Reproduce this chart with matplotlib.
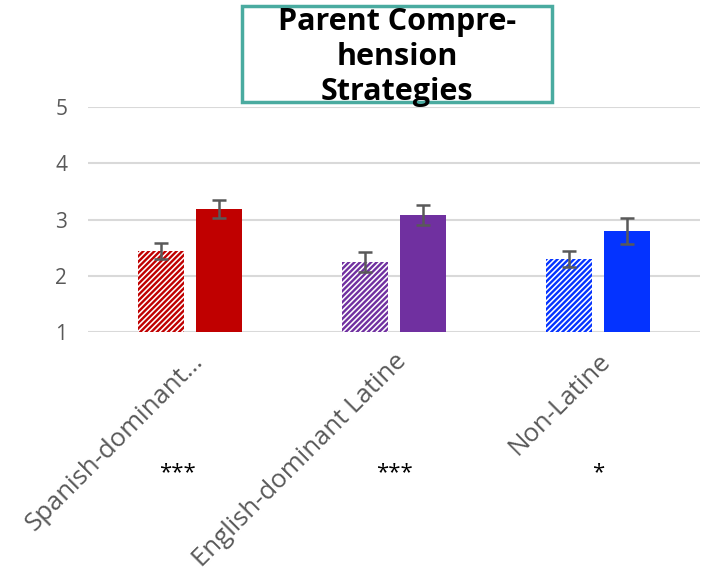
import matplotlib.pyplot as plt
from matplotlib.patches import Rectangle
import numpy as np

# group means and standard errors
groups = ['Spanish-dominant\u2026', 'English-dominant Latine', 'Non-Latine']
pre_means = [2.44, 2.24, 2.30]
pre_err = [0.15, 0.18, 0.14]
post_means = [3.19, 3.08, 2.80]
post_err = [0.16, 0.17, 0.23]
colors = ['#C00000', '#7030A0', '#0433FF']
stars = ['***', '***', '*']
yticks = [1, 2, 3, 4, 5]

plt.rcParams['font.family'] = ['Open Sans', 'DejaVu Sans']
plt.rcParams['hatch.linewidth'] = 1.7

W, H = 706, 578
fig = plt.figure(figsize=(W / 100, H / 100), dpi=100)
ax = fig.add_axes([88 / W, 1 - 332 / H, 612 / W, 225 / H])

x = np.arange(len(groups))
bw = 0.225
off = 0.142
gray = '#595959'

for i in x:
    ax.bar(x[i] - off, pre_means[i] - 1, bw, bottom=1, facecolor='white',
           edgecolor=colors[i], hatch='//////', linewidth=0, zorder=2)
    ax.bar(x[i] + off, post_means[i] - 1, bw, bottom=1, color=colors[i],
           linewidth=0, zorder=2)
ax.errorbar(x - off, pre_means, yerr=pre_err, fmt='none', ecolor=gray,
            elinewidth=1.8, capsize=5, capthick=1.8, zorder=3)
ax.errorbar(x + off, post_means, yerr=post_err, fmt='none', ecolor=gray,
            elinewidth=1.8, capsize=5, capthick=1.8, zorder=3)

ax.set_xlim(-0.5, 2.5)
ax.set_ylim(1, 5)
ax.set_yticks(yticks)
ax.yaxis.grid(True, color='#D9D9D9', linewidth=1.5, zorder=0)
ax.set_axisbelow(True)
for s in ax.spines.values():
    s.set_visible(False)
ax.tick_params(axis='both', length=0, colors=gray)
ax.tick_params(axis='y', pad=15, labelsize=15)

ax.set_xticks(x)
ax.set_xticklabels(groups, rotation=45, ha='right', va='top',
                   rotation_mode='anchor', fontsize=18.5)
ax.tick_params(axis='x', pad=12)

# significance markers under each group
for i, s in enumerate(stars):
    ax.text(x[i] - (0.06 if i == 0 else 0), -1.5, s, ha='center',
            va='center', fontsize=16, color='black')

# boxed title
fig.patches.append(Rectangle((242 / W, 1 - 102 / H), 310 / W, 96 / H,
                             transform=fig.transFigure, fill=False,
                             edgecolor='#4AABA0', linewidth=2.5))
fig.text(397 / W, 1 - 57 / H, 'Parent Compre-\nhension\nStrategies',
         ha='center', va='center', fontsize=22, fontweight='bold',
         linespacing=1.2)

fig.savefig('out.png', dpi=100)
